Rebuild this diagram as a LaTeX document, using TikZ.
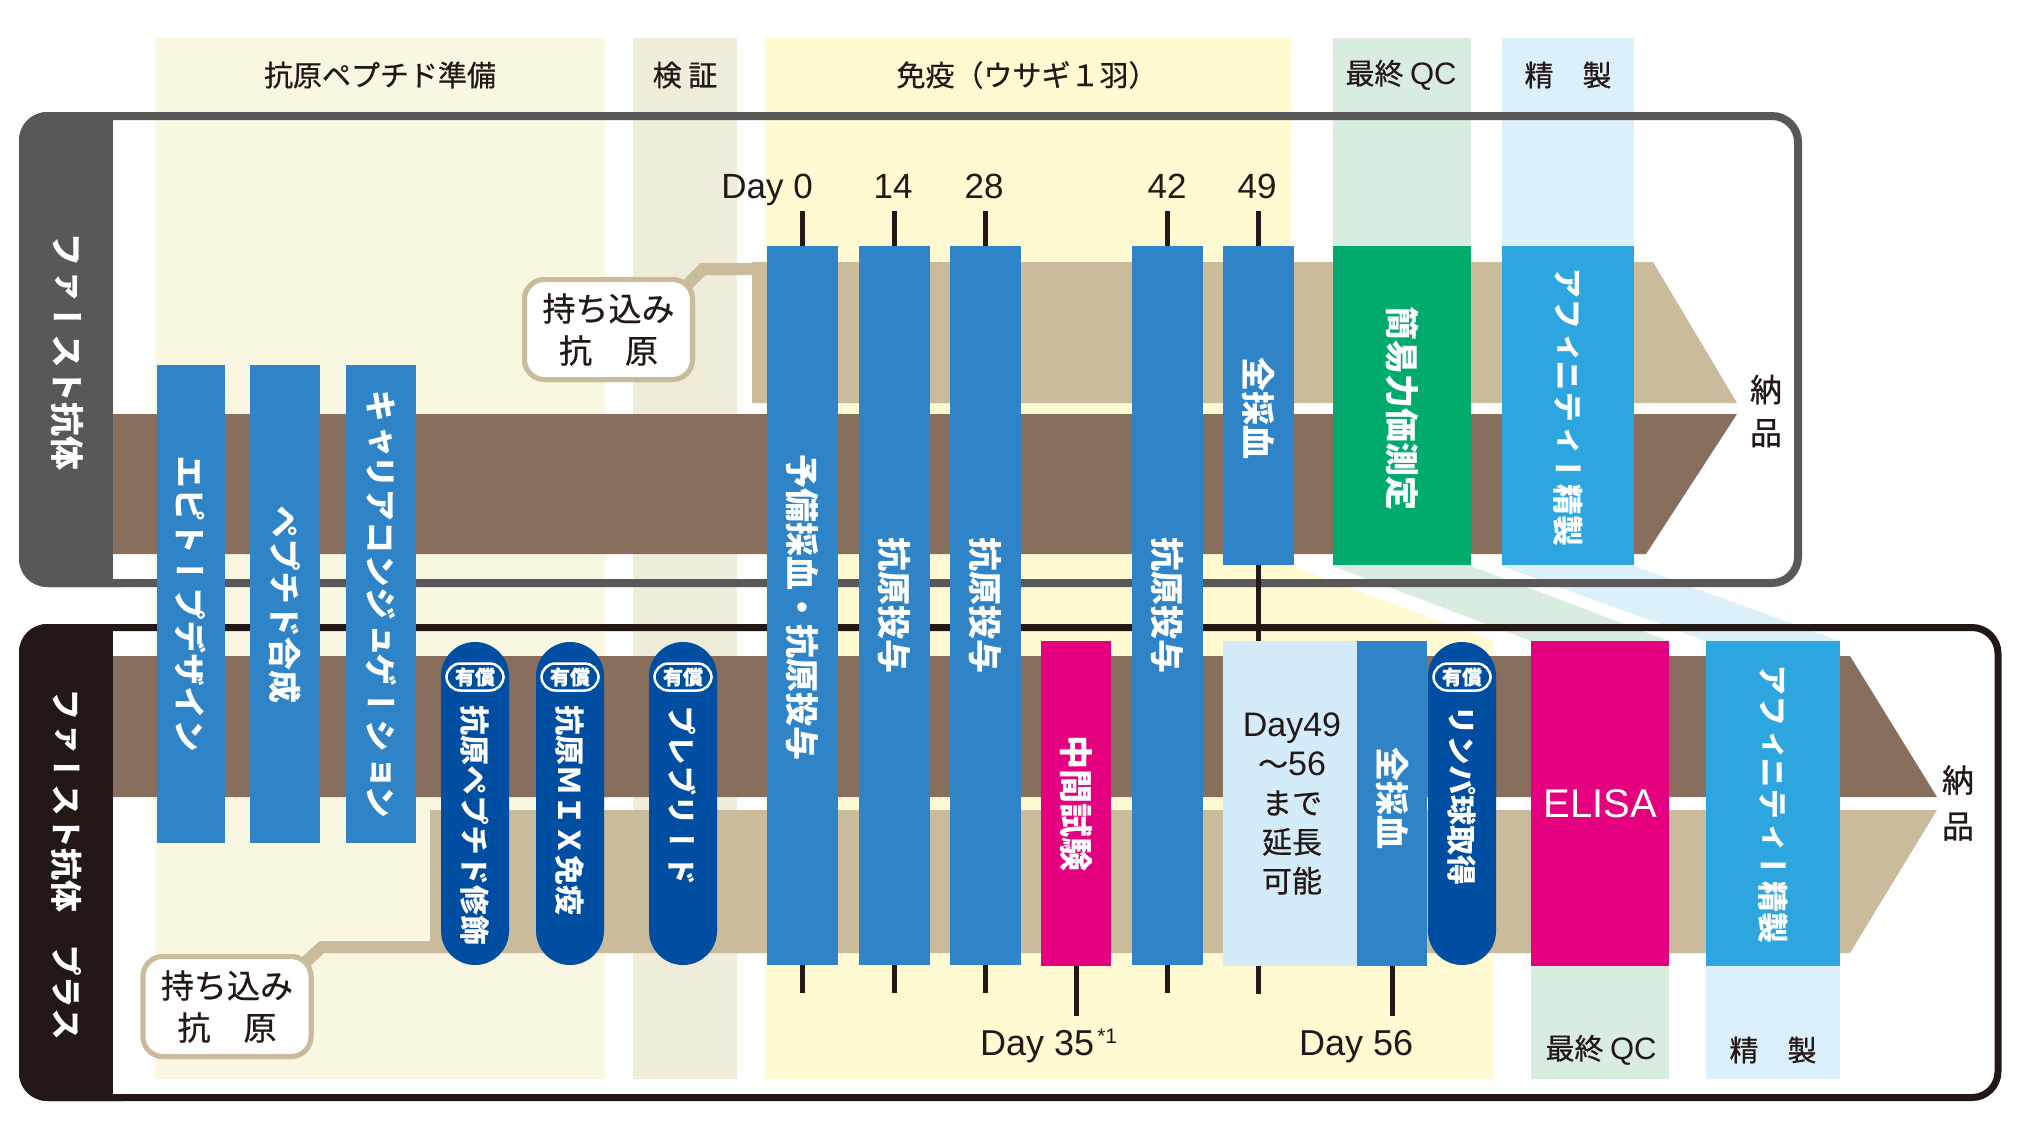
\documentclass[tikz,border=0pt]{standalone}
\usepackage{fontspec}
\setmainfont{Noto Sans CJK JP}[FakeBold=0.6]
\newfontfamily\vjp[RawFeature=+vrt2]{Noto Sans CJK JP}
\newfontfamily\lat{Liberation Sans}
\newcommand\fsz[1]{\fontsize{#1}{#1}\selectfont}
\definecolor{cBlue}{HTML}{2E84C6}
\definecolor{cDark}{HTML}{004EA2}
\definecolor{cGreen}{HTML}{00AB6D}
\definecolor{cSky}{HTML}{2DA6E0}
\definecolor{cMag}{HTML}{E4007F}
\definecolor{cPale}{HTML}{D4ECF9}
\definecolor{cBrown}{HTML}{886E5D}
\definecolor{cTan}{HTML}{C9BB9C}
\definecolor{cGray}{HTML}{595757}
\definecolor{cBlack}{HTML}{231815}
\definecolor{cCream}{HTML}{F9F6E2}
\definecolor{cBeige}{HTML}{EFECDA}
\definecolor{cYellow}{HTML}{FFFAD2}
\definecolor{cMint}{HTML}{D8EDE0}
\definecolor{cIce}{HTML}{DCF0FB}
\begin{document}
\begin{tikzpicture}[x=1pt,y=-1pt,
  box/.style={draw=none,inner sep=0,outer sep=0,anchor=north west},
  vt/.style={rotate=-90,inner sep=0,text=white,font=\vjp\bfseries\fsz{#1}},
  vt/.default=34,
  tick/.style={line width=5,draw=cBlack},
  conn/.style={line width=12,draw=cTan,line join=miter},
  bubble/.style={draw=cTan,line width=5,fill=white,rounded corners=20,minimum width=168,minimum height=100,align=center,inner sep=0,font=\fontsize{33}{42}\selectfont,text=cBlack},
  head/.style={font=\fsz{29},inner sep=0,text=cBlack},
  daylab/.style={font=\lat\fsz{35},inner sep=0,text=cBlack},
  badge/.style={draw=white,line width=2.5,rounded corners=14,minimum width=57,minimum height=27,inner sep=0,text=white,font=\bfseries\fsz{20}}
]
\useasboundingbox (0,0) rectangle (2029,1135);
\fill[white] (0,0) rectangle (2029,1135);
% column bands
\fill[cCream] (155,38) rectangle (605,1079);
\fill[cBeige] (633,38) rectangle (737,1079);
\fill[cYellow] (765,38) -- (1291,38) -- (1291,566) -- (1494,641) -- (1494,1079) -- (765,1079) -- cycle;
\fill[cMint] (1333,38) -- (1471,38) -- (1471,566) -- (1669,641) -- (1669,1079) -- (1531,1079) -- (1531,641) -- (1333,566) -- cycle;
\fill[cIce] (1502,38) -- (1634,38) -- (1634,566) -- (1840,641) -- (1840,1079) -- (1706,1079) -- (1706,641) -- (1502,566) -- cycle;
% header labels
\node[head] (h1) at (380,75) {抗原ペプチド準備};
\node[head] (h2) at (685,75) {検 証};
\node[head] (h3) at (1027,75) {免疫（ウサギ１羽）};
\node[head] (h4) at (1401,75) {最終 {\lat\fsz{31}QC}};
\node[head] (h5) at (1568,75) {精　製};
\node[head] (h6) at (1601,1050) {最終 {\lat\fsz{31}QC}};
\node[head] (h7) at (1773,1050) {精　製};
% frames
\fill[cGray,rounded corners=28] (19,112) rectangle (150,587);
\fill[white] (113,120) rectangle (152,579);
\draw[cGray,line width=8,rounded corners=26] (23,116) rectangle (1798,583);
\fill[cBlack,rounded corners=28] (19,624) rectangle (150,1101);
\fill[white] (113,631) rectangle (152,1094);
\draw[cBlack,line width=7,rounded corners=26] (22.5,627.5) rectangle (1998,1097.5);
% arrows
\fill[cTan] (752,262) -- (1653,262) -- (1737,403) -- (752,403) -- cycle;
\fill[cBrown] (113,414) -- (1737,414) -- (1646,554) -- (113,554) -- cycle;
\fill[cBrown] (113,656) -- (1850,656) -- (1937,797) -- (113,797) -- cycle;
\fill[cTan] (430,810) -- (1937,810) -- (1850,953) -- (430,953) -- cycle;
\node[font=\fsz{32},align=center,inner sep=0,text=cBlack] (n1) at (1766,411) {納\\[11pt]品};
\node[font=\fsz{32},align=center,inner sep=0,text=cBlack] (n2) at (1958,803) {納\\[14pt]品};
% tab labels
\node[vt=34] (tab1) at (67,351) {ファースト抗体};
\node[vt=32] (tab2) at (67,864) {ファースト抗体　プラス};
% bubbles
\coordinate (k1) at (703,269);
\coordinate (k1e) at (758,269);
\coordinate (k2) at (322,947);
\coordinate (k2e) at (436,947);
\node[bubble] (bub1) at (608.5,329.5) {持ち込み\\抗　原};
\node[bubble] (bub2) at (227,1006.5) {持ち込み\\抗　原};
\draw[conn] ([shift={(-9,9)}]bub1.north east) -- (k1) -- (k1e);
\draw[conn] ([shift={(-9,9)}]bub2.north east) -- (k2) -- (k2e);
\node[bubble] at (bub1) {持ち込み\\抗　原};
\node[bubble] at (bub2) {持ち込み\\抗　原};
% left boxes
\node[box,fill=cBlue,minimum width=68,minimum height=478] (e1) at (157,365) {};
\node[box,fill=cBlue,minimum width=70,minimum height=478] (e2) at (250,365) {};
\node[box,fill=cBlue,minimum width=70,minimum height=478] (e3) at (346,365) {};
\node[vt=33] at (e1) {エピトープデザイン};
\node[vt=33] at (e2) {ペプチド合成};
\node[vt=33] at (e3) {キャリアコンジュゲーション};
% immunisation boxes
\node[box,fill=cBlue,minimum width=71,minimum height=719] (b0) at (767,246) {};
\node[box,fill=cBlue,minimum width=71,minimum height=719] (b14) at (859,246) {};
\node[box,fill=cBlue,minimum width=71,minimum height=719] (b28) at (950,246) {};
\node[box,fill=cBlue,minimum width=71,minimum height=719] (b42) at (1132,246) {};
\node[box,fill=cBlue,minimum width=71,minimum height=319] (b49) at (1223,246) {};
\node[box,fill=cGreen,minimum width=138,minimum height=319] (qc1) at (1333,246) {};
\node[box,fill=cSky,minimum width=132,minimum height=319] (pu1) at (1502,246) {};
\node[vt] at ([yshift=-1.5]b0) {予備採血・抗原投与};
\node[vt] at (b14) {抗原投与};
\node[vt] at (b28) {抗原投与};
\node[vt] at (b42) {抗原投与};
\node[vt] at ([yshift=-2.5]b49) {全採血};
\node[vt] at ([yshift=-2.5]qc1) {簡易力価測定};
\node[vt=31] at ([yshift=-1.5]pu1) {アフィニティー精製};
% bottom boxes
\node[box,fill=cDark,rounded corners=34,minimum width=68,minimum height=323] (p1) at (441,642) {};
\node[box,fill=cDark,rounded corners=34,minimum width=68,minimum height=323] (p2) at (536,642) {};
\node[box,fill=cDark,rounded corners=34,minimum width=68,minimum height=323] (p3) at (649,642) {};
\node[box,fill=cDark,rounded corners=34,minimum width=68,minimum height=323] (p4) at (1428,642) {};
\node[box,fill=cMag,minimum width=70,minimum height=325] (m35) at (1041,641) {};
\node[box,fill=cPale,minimum width=134,minimum height=325] (d49) at (1223,641) {};
\node[box,fill=cBlue,minimum width=70,minimum height=325] (w56) at (1357,641) {};
\node[box,fill=cMag,minimum width=138,minimum height=325] (el) at (1531,641) {};
\node[box,fill=cSky,minimum width=134,minimum height=325] (pu2) at (1706,641) {};
\foreach \p in {p1,p2,p3,p4}{\node[badge] at ([yshift=-35]\p.north) {有償};}
\node[vt=30,anchor=west] at ([yshift=-63]p1.north) {抗原ペプチド修飾};
\node[vt=30,anchor=west] at ([yshift=-63]p2.north) {抗原ＭＩＸ免疫};
\node[vt=30,anchor=west] at ([yshift=-63]p3.north) {プレブリード};
\node[vt=30,anchor=west] at ([yshift=-63]p4.north) {リンパ球取得};
\node[vt] at (m35) {中間試験};
\node[vt] at ([yshift=5.5]w56) {全採血};
\node[vt=31] at (pu2) {アフィニティー精製};
\node[font=\lat\fsz{40},text=white,inner sep=0] at (el) {ELISA};
\node[align=center,inner sep=0,text=cBlack,font=\fontsize{30}{39}\selectfont] at ([xshift=2]d49) {{\lat\fsz{34}Day49}\\～{\lat\fsz{34}56}\\まで\\延長\\可能};
% ticks
\coordinate (t0) at (b0.north |- 0,211);
\coordinate (t14) at (b14.north |- 0,211);
\coordinate (t28) at (b28.north |- 0,211);
\coordinate (t42) at (b42.north |- 0,211);
\coordinate (t49) at (b49.north |- 0,211);
\foreach \b in {0,14,28,42,49}{\draw[tick] (t\b) -- (b\b.north);}
\foreach \b in {0,14,28,42}{\draw[tick] (b\b.south) -- ++(0,28);}
\draw[tick] (b49.south) -- (d49.north -| b49.south);
\draw[tick] (d49.south -| b49.south) -- ++(0,28);
\draw[tick] (m35.south) -- ++(0,50);
\draw[tick] (w56.south) -- ++(0,50);
% day labels
\node[daylab,anchor=base east] (dl0) at (813,198) {Day 0};
\node[daylab,anchor=base] (dl14) at (893,198) {14};
\node[daylab,anchor=base] (dl28) at (984,198) {28};
\node[daylab,anchor=base] (dl42) at (1167,198) {42};
\node[daylab,anchor=base] (dl49) at (1257,198) {49};
\node[daylab,font=\lat\fsz{36},anchor=base west] (dl35) at (980,1055) {Day 35\kern3pt\raisebox{12pt}{\fsz{21}*1}};
\node[daylab,font=\lat\fsz{36},anchor=base west] (dl56) at (1299,1055) {Day 56};
\end{tikzpicture}
\end{document}
